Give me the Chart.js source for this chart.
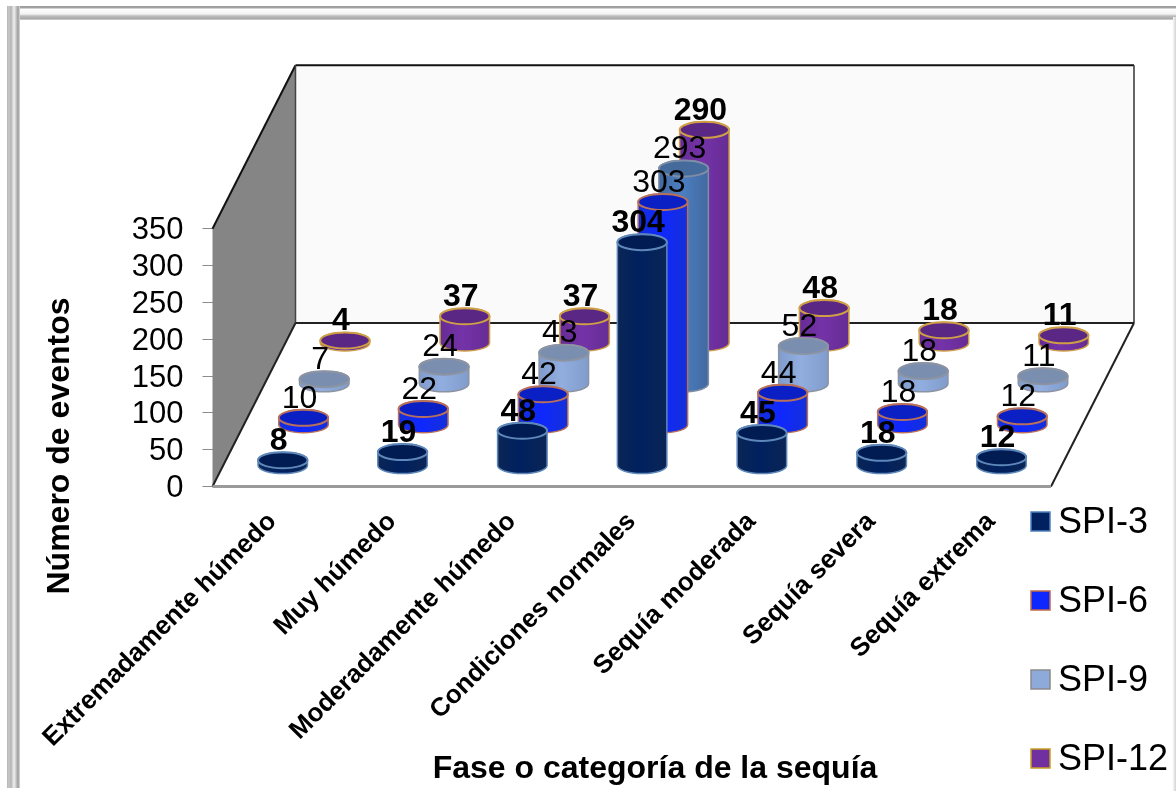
<!DOCTYPE html>
<html lang="es">
<head>
<meta charset="utf-8">
<title>Fase o categoría de la sequía</title>
<script src="https://cdn.jsdelivr.net/npm/chart.js@4/dist/chart.umd.js"></script>
<style>
    html, body { margin: 0; padding: 0; background: #fff; overflow: hidden; }
    #wrap { position: relative; width: 1176px; height: 791px; }
    canvas { position: absolute; left: 0; top: 0; }
    .band { position: absolute; }
    #bandTop { left: 7px; right: 0; top: 6px; height: 14px;
        background: linear-gradient(to bottom, #9c9c9c 0, #a4a4a4 2px, #fff 3px, #f4f4f4 8px, #bdbdbd 10px, #a8a8a8 13px, #e4e4e4 14px); }
    #bandLeft { left: 7px; top: 6px; bottom: 3px; width: 13px;
        background: linear-gradient(to right, #b4b4b4 0, #c8c8c8 2px, #b4b4b4 4px, #f0f0f0 7px, #dcdcdc 8px, #9e9e9e 11px, #b4b4b4 12px, #e4e4e4 13px); }
    #bandRight { right: 0; top: 17px; bottom: 0; width: 3px;
        background: linear-gradient(to right, #f6f6f6, #d4d4d4); }
</style>
</head>
<body>
<div id="wrap">
    <canvas id="sequiaChart" width="1176" height="791"></canvas>
    <div class="band" id="bandTop"></div>
    <div class="band" id="bandLeft"></div>
    <div class="band" id="bandRight"></div>
</div>
<script>
const categories = ["Extremadamente húmedo", "Muy húmedo", "Moderadamente húmedo",
    "Condiciones normales", "Sequía moderada", "Sequía severa", "Sequía extrema"];
const spi3 = [8, 19, 48, 304, 45, 18, 12];
const spi6 = [10, 22, 42, 303, 44, 18, 12];
const spi9 = [7, 24, 43, 293, 52, 18, 11];
const spi12 = [4, 37, 37, 290, 48, 18, 11];
const yTicks = [0, 50, 100, 150, 200, 250, 300, 350];

const xTitle = "Fase o categoría de la sequía";
const yTitle = "Número de eventos";

// floor depth of the 3d box, in pixels
const DEPTH_X = 83;
const DEPTH_Y = 163.5;
const ELLIPSE_RY = 8;
const FONT = '"Liberation Sans", Arial, sans-serif';

function cylinderStyle(side, sideMid, top, rim, swatch, swatchRim, bold) {
    return { side, sideMid, top, rim, swatch, swatchRim, bold };
}
const styles = [
    cylinderStyle("#0b2655", "#00205f", "#001c52", "#5f88ba", "#002060", "#4f81bd", true),
    cylinderStyle("#1530d8", "#0f27ff", "#0a1fc4", "#b9705a", "#0f27ff", "#c0694a", false),
    cylinderStyle("#7f9ccc", "#92aee0", "#7a8fb0", "#8c93a2", "#8eaadb", "#8a8a8a", false),
    cylinderStyle("#662c94", "#7433a8", "#5a2884", "#cf9f45", "#7030a0", "#c8a020", true)
];
// the tall SPI-9 column is a darker blue than the rest of its series
const spi9TallStyle = cylinderStyle("#42699f", "#4c7fc2", "#456a9c", "#7f8ea6", "", "", false);

function depthOffset(seriesIndex) {
    const f = (seriesIndex + 0.5) / 4;
    return { x: DEPTH_X * f, y: -DEPTH_Y * f };
}

function drawCylinder(ctx, cx, top, base, rx, st) {
    const ry = ELLIPSE_RY;
    const grad = ctx.createLinearGradient(cx - rx, 0, cx + rx, 0);
    grad.addColorStop(0, st.side);
    grad.addColorStop(0.45, st.sideMid);
    grad.addColorStop(1, st.side);

    ctx.beginPath();
    ctx.moveTo(cx - rx, top);
    ctx.lineTo(cx - rx, base);
    ctx.ellipse(cx, base, rx, ry, 0, Math.PI, 0, true);
    ctx.lineTo(cx + rx, top);
    ctx.ellipse(cx, top, rx, ry, 0, 0, Math.PI, true);
    ctx.closePath();
    ctx.fillStyle = grad;
    ctx.fill();
    ctx.lineWidth = 1.5;
    ctx.strokeStyle = st.rim;
    ctx.stroke();

    ctx.beginPath();
    ctx.ellipse(cx, top, rx, ry, 0, 0, Math.PI * 2);
    ctx.fillStyle = st.top;
    ctx.fill();
    ctx.lineWidth = 2;
    ctx.strokeStyle = st.rim;
    ctx.stroke();
}

const box3d = {
    id: "box3d",
    // nudge the value labels down so they sit level with their tick marks
    afterLayout(chart) {
        chart.scales.y.getLabelItems().forEach(item => { item.options.translation[1] += 2; });
    },
    beforeDatasetsDraw(chart) {
        const { ctx, chartArea: a } = chart;
        const zero = chart.scales.y.getPixelForValue(0);
        const max = chart.scales.y.getPixelForValue(350);
        const bx = a.left + DEPTH_X;
        const bRight = a.right + DEPTH_X;
        const bFloor = zero - DEPTH_Y;
        const bTop = max - DEPTH_Y;

        const poly = (pts, fill) => {
            ctx.beginPath();
            pts.forEach((p, i) => i ? ctx.lineTo(p[0], p[1]) : ctx.moveTo(p[0], p[1]));
            ctx.closePath();
            ctx.fillStyle = fill;
            ctx.fill();
        };
        const line = (x1, y1, x2, y2, color, w) => {
            ctx.beginPath();
            ctx.moveTo(x1, y1);
            ctx.lineTo(x2, y2);
            ctx.strokeStyle = color;
            ctx.lineWidth = w;
            ctx.stroke();
        };

        ctx.save();
        poly([[bx, bTop], [bRight, bTop], [bRight, bFloor], [bx, bFloor]], "#fafafa");
        poly([[a.left, max], [bx, bTop], [bx, bFloor], [a.left, zero]], "#858585");
        line(a.left, max, bx, bTop, "#111", 2);
        line(bx, bTop, bRight, bTop, "#111", 2);
        line(bx, bTop, bx, bFloor, "#444", 1.5);
        line(bRight, bTop, bRight, bFloor, "#333", 1.5);
        line(bx, bFloor, bRight, bFloor, "#222", 2);
        line(a.left, zero, bx, bFloor, "#222", 2);
        line(a.right, zero, bRight, bFloor, "#222", 2);
        line(a.left, zero, a.right, zero, "#9a9a9a", 3);
        ctx.restore();
    }
};

const cylinders = {
    id: "cylinders",
    // replaces the flat bars with cylinders pushed back along the floor
    beforeDatasetDraw(chart, args) {
        const { ctx } = chart;
        const off = depthOffset(args.index);
        args.meta.data.forEach((el, i) => {
            let st = styles[args.index];
            if (args.index === 2 && chart.data.datasets[2].data[i] > 200) st = spi9TallStyle;
            drawCylinder(ctx, el.x + off.x, el.y + off.y, el.base + off.y, el.width / 2, st);
        });
        return false;
    },
    afterDatasetsDraw(chart) {
        const { ctx } = chart;
        ctx.save();
        ctx.fillStyle = "#000";
        ctx.textAlign = "center";
        ctx.textBaseline = "middle";
        chart.data.datasets.forEach((ds, d) => {
            const off = depthOffset(d);
            const meta = chart.getDatasetMeta(d);
            ctx.font = (styles[d].bold ? "bold 32px " : "32px ") + FONT;
            ds.data.forEach((v, i) => {
                ctx.fillText(String(v), meta.data[i].x + off.x - 4, meta.data[i].y + off.y - 19);
            });
        });
        ctx.restore();
    }
};

// axis titles and the legend sit outside what the scale boxes allow
const annotations = {
    id: "annotations",
    afterDraw(chart) {
        const { ctx } = chart;
        ctx.save();
        ctx.fillStyle = "#000";
        ctx.textBaseline = "middle";
        ctx.textAlign = "center";
        ctx.font = "bold 32px " + FONT;
        ctx.fillText(xTitle, 655, 769);
        ctx.save();
        ctx.translate(60, 446);
        ctx.rotate(-Math.PI / 2);
        ctx.fillText(yTitle, 0, 0);
        ctx.restore();

        ctx.textAlign = "left";
        ctx.font = "36px " + FONT;
        chart.data.datasets.forEach((ds, d) => {
            const y = 522 + d * 79;
            ctx.fillStyle = styles[d].swatch;
            ctx.fillRect(1031, y - 10, 19, 19);
            ctx.strokeStyle = styles[d].swatchRim;
            ctx.lineWidth = 1.5;
            ctx.strokeRect(1031, y - 10, 19, 19);
            ctx.fillStyle = "#000";
            ctx.fillText(ds.label, 1058, y + 1);
        });
        ctx.restore();
    }
};

new Chart(document.getElementById("sequiaChart"), {
    type: "bar",
    data: {
        labels: categories,
        datasets: [
            { label: "SPI-3", data: spi3 },
            { label: "SPI-6", data: spi6 },
            { label: "SPI-9", data: spi9 },
            { label: "SPI-12", data: spi12 }
        ]
    },
    plugins: [box3d, cylinders, annotations],
    options: {
        responsive: false,
        animation: false,
        grouped: false,
        categoryPercentage: 1,
        barPercentage: 0.413,
        layout: { padding: { top: 228.7, right: 125, left: 0, bottom: 0 } },
        plugins: { legend: { display: false }, tooltip: { enabled: false } },
        scales: {
            x: {
                grid: { display: false },
                border: { display: false },
                ticks: {
                    autoSkip: false, minRotation: 45, maxRotation: 45, padding: 12,
                    color: "#000", font: { family: FONT, size: 26, weight: "bold" }
                },
                afterFit(scale) { scale.height = 304.5; }
            },
            y: {
                min: 0,
                max: 350,
                afterBuildTicks(scale) { scale.ticks = yTicks.map(value => ({ value })); },
                grid: { drawOnChartArea: false, tickLength: 10, color: "#8c8c8c" },
                border: { display: false },
                ticks: { autoSkip: false, padding: 19, color: "#000", font: { family: FONT, size: 31 } },
                afterFit(scale) { scale.width = 212.5; }
            }
        }
    }
});
</script>
</body>
</html>
